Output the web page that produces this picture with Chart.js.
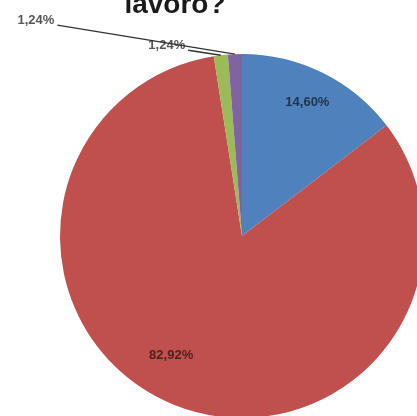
<html lang="it">

<head>
  <meta charset="utf-8">
  <title>lavoro?</title>
  <style>
    html, body { margin: 0; padding: 0; background: #fff; overflow: hidden; }
    #wrap { position: absolute; left: 0; top: 0; }
  </style>
</head>

<body>
  <div id="wrap">
    <canvas id="myChart" width="500" height="480"></canvas>
  </div>
  <script src="https://cdn.jsdelivr.net/npm/chart.js"></script>
  <script>
    // slice values in percent, clockwise from 12 o'clock
    const categories = ['A', 'B', 'C', 'D']
    const percents = [14.60, 82.92, 1.24, 1.24]
    const sliceColors = ['#4f81bd', '#c0504d', '#9bbb59', '#8064a2']
    const titleText = 'lavoro?'

    // how each percentage label is placed: inside the slice, or outside with a leader line
    const labelPlacement = [
      { inside: true, r: 0.82, shift: -0.3 },
      { inside: true, r: 0.76, shift: 9 },
      { inside: false, dx: -54, dy: -10 },
      { inside: false, dx: -199, dy: -34 }
    ]

    const fmt = v => v.toFixed(2).replace('.', ',') + '%'

    const pieLabels = {
      id: 'pieLabels',
      afterDatasetsDraw(chart) {
        const ctx = chart.ctx
        const arcs = chart.getDatasetMeta(0).data
        ctx.save()
        ctx.font = 'bold 13px "Liberation Sans", Arial, sans-serif'
        ctx.textAlign = 'center'
        ctx.textBaseline = 'middle'
        arcs.forEach((arc, i) => {
          const p = labelPlacement[i]
          const mid = (arc.startAngle + arc.endAngle) / 2
          const text = fmt(percents[i])
          if (p.inside) {
            const a = mid + p.shift * Math.PI / 180
            const x = arc.x + Math.cos(a) * arc.outerRadius * p.r
            const y = arc.y + Math.sin(a) * arc.outerRadius * p.r + 1
            ctx.fillStyle = 'rgba(0,0,0,0.6)'
            ctx.fillText(text, x, y)
          } else {
            const ex = arc.x + Math.cos(mid) * arc.outerRadius
            const ey = arc.y + Math.sin(mid) * arc.outerRadius
            const lx = ex + p.dx
            const ly = ey + p.dy
            const w = ctx.measureText(text).width
            ctx.strokeStyle = '#333'
            ctx.lineWidth = 1.3
            ctx.beginPath()
            ctx.moveTo(lx + w / 2 + 3, ly + 5)
            ctx.lineTo(ex, ey)
            ctx.stroke()
            ctx.fillStyle = '#555'
            ctx.fillText(text, lx, ly)
          }
        })
        // chart title, only its last line sits inside the frame
        ctx.font = 'bold 28px "Liberation Sans", Arial, sans-serif'
        ctx.fillStyle = '#1a1a1a'
        ctx.textBaseline = 'alphabetic'
        ctx.fillText(titleText, 175, 13)
        ctx.restore()
      }
    }

    function renderChart() {
      const ctx = document.getElementById('myChart')
      new Chart(ctx, {
        type: 'pie',
        data: {
          labels: categories,
          datasets: [{
            data: percents,
            backgroundColor: sliceColors,
            borderWidth: 0
          }]
        },
        options: {
          responsive: false,
          animation: false,
          layout: { padding: { left: 60, top: 54, right: 76, bottom: 62 } },
          plugins: {
            legend: { display: false },
            tooltip: { enabled: false }
          }
        },
        plugins: [pieLabels]
      })
    }
    window.onload = renderChart
  </script>
</body>

</html>
